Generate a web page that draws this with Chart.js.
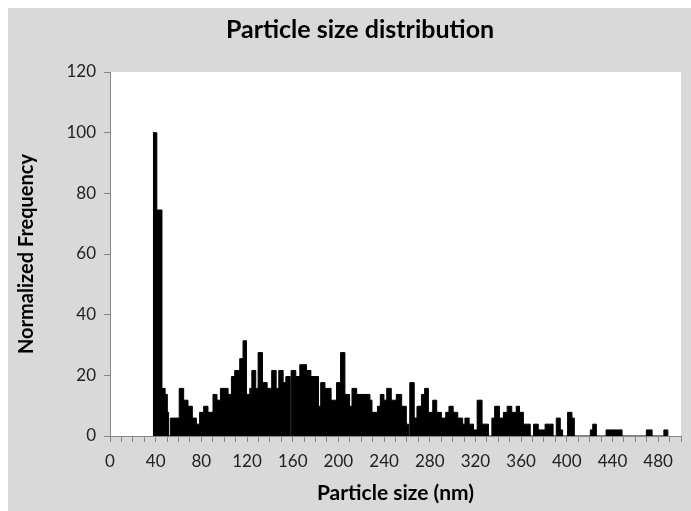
<!DOCTYPE html>
<html><head><meta charset="utf-8">
<script src="https://cdn.jsdelivr.net/npm/chart.js@4/dist/chart.umd.min.js"></script>
<style>html,body{margin:0;padding:0;background:#fff;overflow:hidden}</style>
</head><body>
<canvas id="c" width="691" height="511"></canvas>
<script>
// Histogram steps: start of each bin (nm) and its normalized frequency
const binStart = [37.5,41.0,45.5,48.3,50.2,51.3,52.8,60.6,64.5,68.3,72.1,75.6,78.5,82.0,85.8,90.2,93.7,96.7,103.4,106.3,
  109.2,113.6,116.5,119.5,122.4,124.2,127.6,129.7,133.5,137.6,141.6,145.5,147.8,151.6,154.0,157.8,158.6,162.7,166.2,172.1,
  175.9,182.6,184.5,188.2,193.6,198.4,201.9,205.7,209.8,211.9,216.0,227.6,229.4,234.2,236.7,239.9,242.3,246.3,250.7,255.4,
  259.5,261.5,262.5,266.4,268.8,272.7,275.5,278.8,282.6,286.1,290.2,294.0,296.8,300.5,304.5,308.8,310.8,314.5,318.3,321.5,
  325.8,331.4,334.4,336.8,341.0,344.5,347.8,351.8,355.7,358.6,362.0,368.0,370.9,375.0,381.0,388.0,390.8,394.3,396.3,400.7,
  404.5,406.6,420.6,422.7,425.9,434.4,448.4,469.7,474.7,485.0,488.5];
const freq = [100,74.5,15.7,13.7,7.8,0,5.9,15.7,11.8,9.8,5.9,3.9,7.8,9.8,7.8,13.7,11.8,15.7,13.7,19.6,
  21.6,25.5,31.4,13.7,15.7,21.6,15.7,27.5,17.6,15.7,21.6,15.7,21.6,17.6,19.6,0,21.6,19.6,23.5,21.6,
  19.6,9.8,17.6,15.7,11.8,17.6,27.5,13.7,9.8,15.7,13.7,11.8,7.8,9.8,13.7,11.8,15.7,11.8,13.7,9.8,
  3.9,0,17.6,5.9,9.8,13.7,15.7,7.8,11.8,7.8,5.9,7.8,9.8,7.8,5.9,3.9,5.9,3.9,2.0,11.8,
  3.9,0,5.9,9.8,5.9,7.8,9.8,7.8,9.8,7.8,3.9,0,3.9,2.0,3.9,0,5.9,2.0,0,7.8,
  5.9,0,2.0,3.9,0,2.0,0,2.0,0,2.0,0];
const xTickLabels = ['0','40','80','120','160','200','240','280','320','360','400','440','480'];
const yTickLabels = ['0','20','40','60','80','100','120'];

const FONT = 'Lato, "Open Sans", sans-serif';
const bgPlugin = {
  id: 'bg',
  beforeDraw(chart) {
    const {ctx, chartArea: a} = chart;
    ctx.save();
    ctx.fillStyle = '#d9d9d9';
    ctx.fillRect(8, 8, chart.width - 8, chart.height - 8);
    ctx.fillStyle = '#ffffff';
    ctx.fillRect(a.left, a.top, a.right - a.left, a.bottom - a.top);
    ctx.restore();
  }
};

new Chart(document.getElementById('c'), {
  type: 'line',
  data: {
    datasets: [{
      data: binStart.map((x, i) => ({x: x, y: freq[i]})),
      stepped: true,
      fill: 'origin',
      backgroundColor: '#000',
      borderColor: '#000',
      borderWidth: 1,
      pointRadius: 0
    }]
  },
  options: {
    responsive: false,
    animation: false,
    layout: {padding: {left: 39, right: 10, top: 0, bottom: 5}},
    plugins: {
      legend: {display: false},
      tooltip: {enabled: false},
      title: {
        display: true,
        text: 'Particle size distribution',
        color: '#000',
        font: {family: FONT, size: 25, weight: 'bold'},
        padding: {top: 15, bottom: 27}
      }
    },
    scales: {
      x: {
        type: 'linear',
        min: 0, max: 500,
        afterFit(s) { s.height = 70; },
        afterBuildTicks(s) {
          const t = [];
          for (let v = 0; v <= 500; v += 10) t.push({value: v});
          s.ticks = t;
        },
        ticks: {
          autoSkip: false, maxRotation: 0, minRotation: 0,
          padding: 9,
          color: '#222',
          font: {family: FONT, size: 17},
          callback: (v) => xTickLabels.includes(String(v)) ? String(v) : ''
        },
        grid: {display: true, drawOnChartArea: false, drawTicks: true, tickLength: 6, color: '#868686'},
        border: {display: true, color: '#868686', width: 1},
        title: {display: true, text: 'Particle size (nm)', color: '#000', font: {family: FONT, size: 21, weight: 'bold'}, padding: {top: 4, bottom: 0}}
      },
      y: {
        min: 0, max: 120,
        afterFit(s) { s.width = 71; },
        afterBuildTicks(s) { s.ticks = yTickLabels.map(v => ({value: Number(v)})); },
        ticks: {
          padding: 8,
          color: '#222',
          font: {family: FONT, size: 17}
        },
        grid: {display: true, drawOnChartArea: false, drawTicks: true, tickLength: 6, color: '#868686'},
        border: {display: true, color: '#868686', width: 1},
        title: {display: true, text: 'Normalized Frequency', color: '#000', font: {family: FONT, size: 20, weight: 'bold'}, padding: {top: -24, bottom: 0}}
      }
    }
  },
  plugins: [bgPlugin]
});
</script>
</body></html>
